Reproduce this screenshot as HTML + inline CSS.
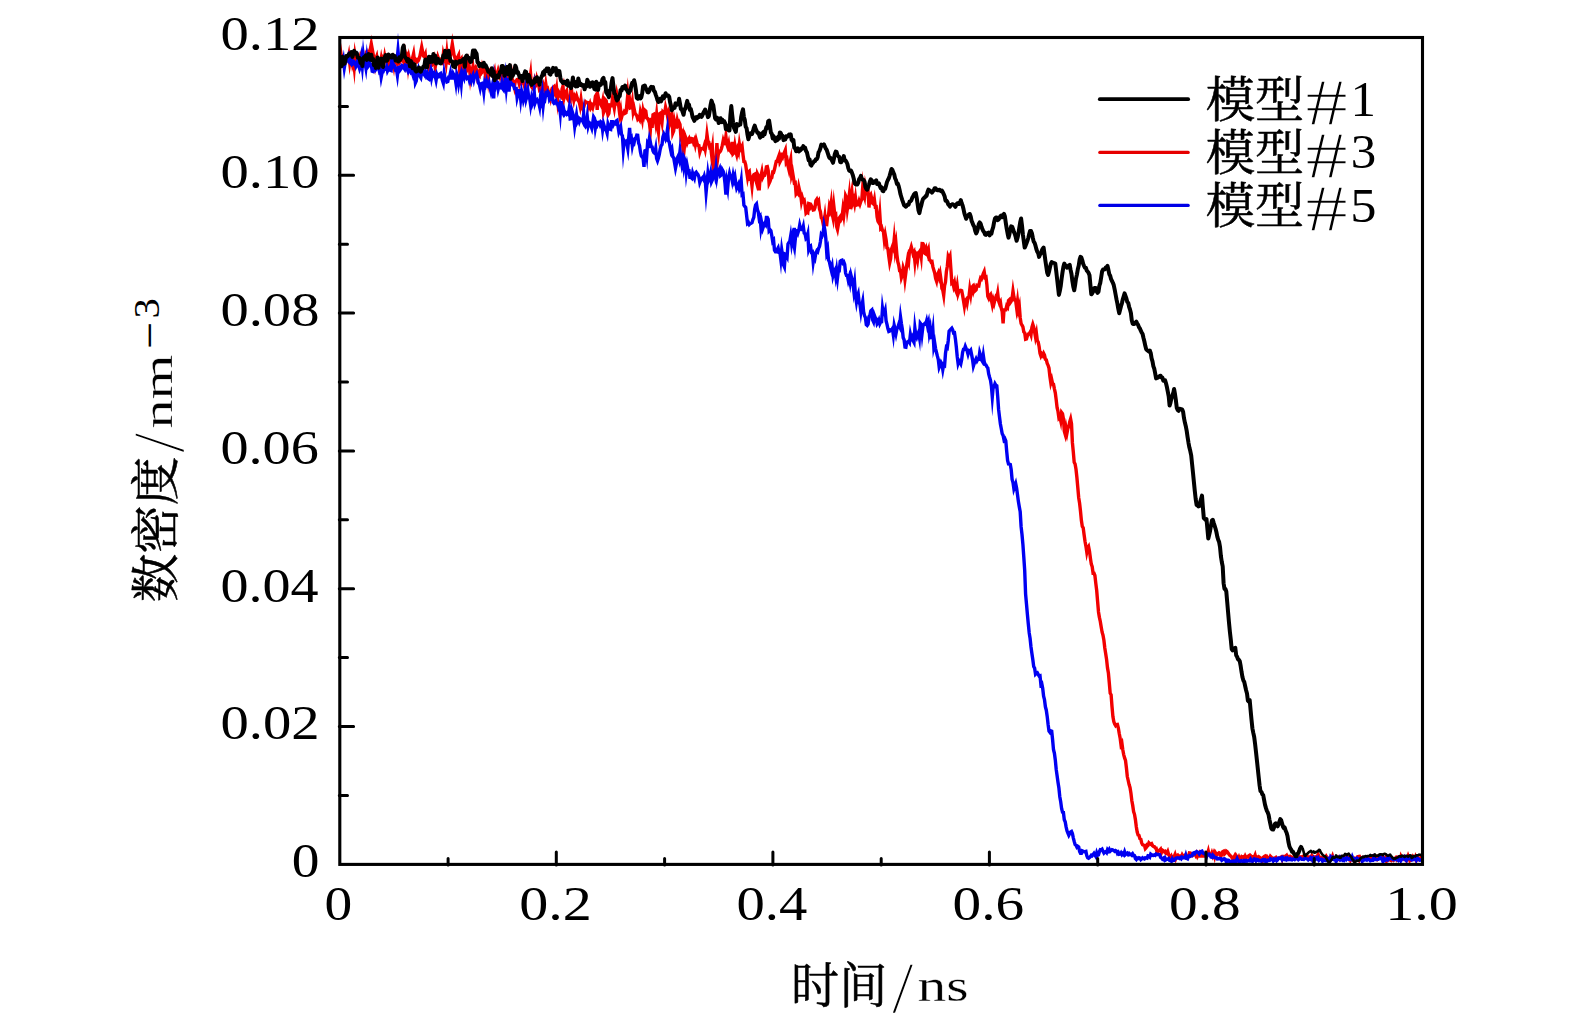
<!DOCTYPE html>
<html lang="zh"><head><meta charset="utf-8"><title>数密度-时间</title>
<style>html,body{margin:0;padding:0;background:#fff}svg{display:block}</style></head>
<body>
<svg width="1575" height="1025" viewBox="0 0 1575 1025">
<rect width="1575" height="1025" fill="#fff"/>
<clipPath id="c"><rect x="339.8" y="31.5" width="1082.7" height="832.9"/></clipPath>
<g fill="none" stroke-linejoin="miter" stroke-miterlimit="12" stroke-linecap="butt" clip-path="url(#c)">
<polyline stroke="#f20000" stroke-width="3.4" points="339.8,61.9 340.7,52.0 341.6,57.8 342.5,56.9 343.4,62.1 344.3,61.8 345.2,60.1 346.1,61.3 347.0,58.7 347.9,59.5 348.8,55.1 349.7,62.8 350.6,56.9 351.5,57.1 352.4,63.2 353.3,59.3 354.2,67.1 355.1,55.1 356.0,60.2 356.9,59.7 357.8,58.9 358.7,62.5 359.6,59.1 360.5,55.6 361.4,57.7 362.3,56.5 363.2,57.6 364.1,62.3 365.0,62.3 365.9,55.4 366.8,57.4 367.7,54.4 368.6,58.2 369.5,53.8 370.4,48.9 371.3,44.0 372.2,48.9 373.1,53.8 374.0,59.9 374.9,64.8 375.8,58.7 376.7,56.3 377.6,62.8 378.5,64.6 379.4,63.2 380.3,63.6 381.2,58.5 382.1,63.6 383.0,59.9 383.9,62.9 384.8,56.3 385.7,60.7 386.6,59.8 387.5,61.0 388.4,63.8 389.3,61.0 390.2,63.8 391.1,60.8 392.0,64.3 392.9,60.5 393.8,65.6 394.7,58.7 395.6,57.6 396.5,59.7 397.4,63.5 398.3,57.9 399.2,57.2 400.1,61.5 401.0,59.9 401.9,59.3 402.8,60.1 403.7,62.0 404.6,64.6 405.5,53.4 406.4,57.1 407.3,55.5 408.2,65.1 409.1,58.0 410.0,62.2 410.9,64.3 411.8,61.3 412.7,57.3 413.6,53.6 414.5,61.0 415.4,59.6 416.3,59.4 417.2,61.7 418.1,60.9 419.0,58.8 419.9,56.1 420.8,51.6 421.7,47.0 422.6,51.6 423.5,56.1 424.4,56.8 425.3,54.5 426.2,64.1 427.1,61.3 428.0,61.9 428.9,66.3 429.8,63.1 430.7,65.2 431.6,65.2 432.5,63.1 433.4,63.1 434.3,59.7 435.2,67.3 436.1,61.5 437.0,61.8 437.9,56.9 438.8,59.5 439.7,60.4 440.6,59.6 441.5,62.8 442.4,63.3 443.3,54.4 444.2,58.2 445.1,58.5 446.0,63.2 446.9,53.7 447.8,62.6 448.7,63.0 449.6,60.2 450.5,55.3 451.4,49.7 452.3,44.0 453.2,49.7 454.1,55.3 455.0,58.0 455.9,63.5 456.8,60.5 457.7,57.2 458.6,55.3 459.5,67.7 460.4,60.4 461.3,59.0 462.2,67.7 463.1,69.2 464.0,66.8 464.9,64.1 465.8,72.3 466.7,70.3 467.6,67.1 468.5,62.5 469.4,67.5 470.3,76.7 471.2,70.1 472.1,70.2 473.0,66.3 473.9,71.7 474.8,69.0 475.7,67.5 476.6,69.9 477.5,77.0 478.4,74.9 479.3,75.8 480.2,69.4 481.1,71.3 482.0,67.1 482.9,71.1 483.8,70.0 484.7,69.5 485.6,76.7 486.5,71.0 487.4,70.6 488.3,78.9 489.2,72.0 490.1,70.5 491.0,69.1 491.9,69.8 492.8,70.6 493.7,75.2 494.6,71.6 495.5,78.4 496.4,78.8 497.3,73.6 498.2,70.3 499.1,73.3 500.0,76.4 500.9,73.0 501.8,75.6 502.7,76.0 503.6,79.1 504.5,77.6 505.4,80.6 506.3,78.1 507.2,81.1 508.1,76.9 509.0,79.1 509.9,81.5 510.8,80.9 511.7,75.1 512.6,81.9 513.5,81.8 514.4,86.4 515.3,81.2 516.2,80.8 517.1,79.4 518.0,79.2 518.9,82.6 519.8,76.1 520.7,77.2 521.6,82.1 522.5,80.9 523.4,82.8 524.3,85.5 525.2,88.7 526.1,85.6 527.0,88.3 527.9,84.5 528.8,78.8 529.7,80.6 530.6,74.2 531.5,86.6 532.4,87.8 533.3,83.9 534.2,80.8 535.1,86.5 536.0,85.1 536.9,79.1 537.8,82.5 538.7,85.1 539.6,90.2 540.5,89.6 541.4,89.6 542.3,87.6 543.2,84.7 544.1,87.9 545.0,91.8 545.9,84.5 546.8,90.4 547.7,89.2 548.6,93.5 549.5,93.4 550.4,97.3 551.3,90.9 552.2,88.2 553.1,87.4 554.0,86.6 554.9,94.3 555.8,95.6 556.7,89.6 557.6,99.3 558.5,91.5 559.4,93.0 560.3,95.9 561.2,96.9 562.1,88.9 563.0,86.1 563.9,98.3 564.8,94.5 565.7,92.4 566.6,90.9 567.5,98.8 568.4,100.3 569.3,98.8 570.2,100.1 571.1,85.8 572.0,94.9 572.9,95.6 573.8,100.3 574.7,96.1 575.6,97.8 576.5,95.5 577.4,98.4 578.3,100.7 579.2,102.0 580.1,106.1 581.0,99.8 581.9,106.9 582.8,109.1 583.7,107.2 584.6,104.1 585.5,101.7 586.4,102.6 587.3,102.4 588.2,102.6 589.1,106.5 590.0,103.8 590.9,107.5 591.8,105.6 592.7,107.7 593.6,103.9 594.5,103.7 595.4,96.2 596.3,94.7 597.2,109.9 598.1,96.6 599.0,101.2 599.9,100.8 600.8,104.3 601.7,106.1 602.6,101.7 603.5,112.7 604.4,110.2 605.3,99.7 606.2,100.7 607.1,111.0 608.0,115.0 608.9,113.5 609.8,105.1 610.7,105.4 611.6,105.6 612.5,98.5 613.4,103.5 614.3,108.2 615.2,101.8 616.1,102.7 617.0,94.5 617.9,98.7 618.8,106.9 619.7,114.0 620.6,109.8 621.5,117.6 622.4,114.5 623.3,114.1 624.2,111.9 625.1,113.2 626.0,112.7 626.9,103.9 627.8,94.4 628.7,103.2 629.6,100.1 630.5,107.7 631.4,107.3 632.3,101.9 633.2,112.0 634.1,108.6 635.0,113.1 635.9,114.6 636.8,115.8 637.7,119.0 638.6,117.8 639.5,119.4 640.4,112.0 641.3,115.5 642.2,119.7 643.1,110.9 644.0,114.8 644.9,110.3 645.8,111.1 646.7,117.9 647.6,118.4 648.5,120.5 649.4,123.0 650.3,130.7 651.2,117.8 652.1,128.0 653.0,114.7 653.9,114.2 654.8,116.5 655.7,122.5 656.6,114.8 657.5,125.1 658.4,131.4 659.3,114.0 660.2,113.4 661.1,117.6 662.0,122.3 662.9,112.2 663.8,113.3 664.7,113.1 665.6,107.2 666.5,110.6 667.4,115.5 668.3,112.7 669.2,122.9 670.1,117.5 671.0,121.4 671.9,116.8 672.8,133.1 673.7,130.9 674.6,122.2 675.5,126.6 676.4,126.8 677.3,120.5 678.2,124.3 679.1,122.4 680.0,124.5 680.9,136.5 681.8,134.5 682.7,145.6 683.6,138.8 684.5,145.8 685.4,136.8 686.3,139.3 687.2,142.8 688.1,140.3 689.0,138.7 689.9,142.1 690.8,141.8 691.7,138.6 692.6,138.9 693.5,142.3 694.4,140.2 695.3,144.6 696.2,140.0 697.1,143.3 698.0,145.4 698.9,145.6 699.8,152.1 700.7,149.2 701.6,148.6 702.5,148.4 703.4,149.0 704.3,145.8 705.2,149.5 706.1,143.5 707.0,134.6 707.9,141.3 708.8,142.1 709.7,146.8 710.6,145.9 711.5,153.9 712.4,147.9 713.3,164.8 714.2,161.2 715.1,164.5 716.0,161.3 716.9,143.1 717.8,157.8 718.7,151.5 719.6,152.2 720.5,151.2 721.4,148.8 722.3,145.4 723.2,140.7 724.1,143.7 725.0,143.5 725.9,136.5 726.8,144.2 727.7,146.9 728.6,143.5 729.5,150.3 730.4,151.0 731.3,152.3 732.2,141.9 733.1,153.7 734.0,152.7 734.9,145.8 735.8,151.5 736.7,154.7 737.6,149.5 738.5,152.2 739.4,144.2 740.3,149.5 741.2,148.0 742.1,146.1 743.0,154.6 743.9,161.5 744.8,161.7 745.7,164.9 746.6,171.3 747.5,177.1 748.4,172.1 749.3,171.3 750.2,178.7 751.1,178.3 752.0,185.9 752.9,176.6 753.8,174.7 754.7,174.2 755.6,179.2 756.5,182.4 757.4,173.7 758.3,175.6 759.2,190.3 760.1,176.1 761.0,175.5 761.9,171.5 762.8,177.4 763.7,175.6 764.6,175.4 765.5,172.2 766.4,166.8 767.3,166.6 768.2,170.4 769.1,183.4 770.0,181.5 770.9,178.5 771.8,177.6 772.7,172.2 773.6,172.3 774.5,169.3 775.4,165.2 776.3,161.2 777.2,161.1 778.1,158.0 779.0,155.5 779.9,162.1 780.8,160.3 781.7,155.7 782.6,157.0 783.5,153.9 784.4,152.3 785.3,150.1 786.2,161.8 787.1,160.1 788.0,166.0 788.9,169.7 789.8,163.4 790.7,159.5 791.6,175.0 792.5,171.8 793.4,177.3 794.3,182.9 795.2,182.6 796.1,193.8 797.0,192.5 797.9,193.6 798.8,187.1 799.7,191.1 800.6,193.9 801.5,201.6 802.4,197.9 803.3,201.1 804.2,200.3 805.1,205.2 806.0,213.0 806.9,212.0 807.8,212.6 808.7,203.5 809.6,203.8 810.5,207.2 811.4,205.7 812.3,207.5 813.2,210.0 814.1,209.8 815.0,207.5 815.9,200.7 816.8,199.3 817.7,202.0 818.6,200.7 819.5,209.1 820.4,211.7 821.3,217.9 822.2,219.0 823.1,223.6 824.0,222.6 824.9,216.2 825.8,224.5 826.7,224.6 827.6,216.2 828.5,215.3 829.4,206.6 830.3,209.5 831.2,203.1 832.1,213.4 833.0,217.7 833.9,206.7 834.8,214.8 835.7,214.2 836.6,226.5 837.5,229.5 838.4,224.3 839.3,218.0 840.2,216.7 841.1,219.4 842.0,217.7 842.9,209.8 843.8,215.4 844.7,207.8 845.6,195.8 846.5,197.8 847.4,208.8 848.3,202.8 849.2,195.5 850.1,209.2 851.0,197.3 851.9,191.8 852.8,202.3 853.7,199.6 854.6,203.9 855.5,197.8 856.4,205.1 857.3,204.6 858.2,204.7 859.1,201.2 860.0,204.0 860.9,201.2 861.8,199.5 862.7,187.2 863.6,194.1 864.5,197.1 865.4,187.1 866.3,191.9 867.2,193.4 868.1,192.3 869.0,207.5 869.9,196.3 870.8,194.8 871.7,198.5 872.6,203.4 873.5,204.1 874.4,199.7 875.3,207.0 876.2,206.8 877.1,217.0 878.0,221.3 878.9,222.7 879.8,214.1 880.7,228.2 881.6,227.2 882.5,230.5 883.4,231.2 884.3,239.6 885.2,234.7 886.1,239.8 887.0,248.0 887.9,248.5 888.8,256.3 889.7,262.7 890.6,258.7 891.5,249.2 892.4,246.6 893.3,248.7 894.2,239.3 895.1,249.8 896.0,244.0 896.9,254.6 897.8,261.7 898.7,265.0 899.6,270.6 900.5,270.6 901.4,277.6 902.3,275.0 903.2,267.9 904.1,270.7 905.0,279.2 905.9,272.3 906.8,264.6 907.7,258.8 908.6,261.9 909.5,250.7 910.4,250.0 911.3,246.9 912.2,250.3 913.1,254.0 914.0,252.4 914.9,261.5 915.8,253.3 916.7,254.6 917.6,259.7 918.5,252.6 919.4,251.9 920.3,250.5 921.2,256.5 922.1,243.6 923.0,243.7 923.9,245.2 924.8,253.4 925.7,254.0 926.6,249.5 927.5,252.9 928.4,250.0 929.3,259.8 930.2,260.2 931.1,262.0 932.0,261.6 932.9,266.9 933.8,269.9 934.7,273.0 935.6,278.3 936.5,281.0 937.4,275.0 938.3,272.9 939.2,276.9 940.1,273.4 941.0,279.6 941.9,288.4 942.8,290.1 943.7,295.2 944.6,285.6 945.5,281.9 946.4,271.5 947.3,266.5 948.2,256.6 949.1,258.7 950.0,256.4 950.9,269.2 951.8,283.0 952.7,282.2 953.6,286.2 954.5,283.0 955.4,289.5 956.3,291.7 957.2,286.1 958.1,293.7 959.0,290.9 959.9,290.5 960.8,290.2 961.7,290.6 962.6,295.4 963.5,300.6 964.4,306.2 965.3,300.6 966.2,299.5 967.1,303.2 968.0,297.8 968.9,297.3 969.8,289.3 970.7,294.6 971.6,287.6 972.5,286.5 973.4,291.0 974.3,288.0 975.2,290.7 976.1,289.9 977.0,285.3 977.9,285.7 978.8,285.9 979.7,281.2 980.6,278.0 981.5,278.9 982.4,276.4 983.3,273.7 984.2,271.6 985.1,277.5 986.0,277.1 986.9,284.9 987.8,296.4 988.7,298.3 989.6,295.8 990.5,294.6 991.4,300.2 992.3,304.7 993.2,300.0 994.1,303.3 995.0,299.7 995.9,296.9 996.8,298.1 997.7,293.2 998.6,300.9 999.5,303.5 1000.4,301.9 1001.3,308.4 1002.2,311.6 1003.1,323.4 1004.0,309.9 1004.9,309.9 1005.8,309.9 1006.7,306.0 1007.6,307.2 1008.5,300.5 1009.4,299.6 1010.3,302.6 1011.2,301.3 1012.1,298.2 1013.0,291.0 1013.9,296.9 1014.8,300.4 1015.7,300.8 1016.6,307.7 1017.5,301.2 1018.4,309.5 1019.3,306.1 1020.2,317.7 1021.1,323.5 1022.0,325.2 1022.9,326.8 1023.8,331.9 1024.7,332.8 1025.6,339.3 1026.5,339.0 1027.4,335.8 1028.3,334.0 1029.2,333.8 1030.1,332.2 1031.0,334.8 1031.9,327.3 1032.8,324.3 1033.7,327.1 1034.6,332.0 1035.5,337.1 1036.4,333.1 1037.3,340.5 1038.2,342.1 1039.1,346.5 1040.0,353.4 1040.9,356.0 1041.8,354.1 1042.7,355.4 1043.6,353.3 1044.5,355.1 1045.4,359.3 1046.3,359.7 1047.2,363.4 1048.1,365.3 1049.0,368.2 1049.9,376.5 1050.8,382.7 1051.7,379.5 1052.6,383.7 1053.5,384.1 1054.4,388.8 1055.3,392.9 1056.2,399.9 1057.1,407.7 1058.0,411.4 1058.9,417.8 1059.8,416.7 1060.7,420.7 1061.6,412.5 1062.5,413.7 1063.4,418.7 1064.3,431.3 1065.2,434.4 1066.1,428.1 1067.0,432.9 1067.9,428.1 1068.8,426.8 1069.7,421.8 1070.6,418.9 1071.5,423.7 1072.4,442.7 1073.3,451.8 1074.2,462.3 1075.1,464.0 1076.0,469.3 1076.9,477.5 1077.8,487.5 1078.7,497.7 1079.6,503.2 1080.5,511.3 1081.4,520.6 1082.3,526.5 1083.2,527.9 1084.1,534.8 1085.0,541.2 1085.9,546.1 1086.8,552.2 1087.7,548.2 1088.6,546.7 1089.5,551.3 1090.4,558.1 1091.3,564.2 1092.2,566.7 1093.1,573.3 1094.0,573.3 1094.9,575.5 1095.8,583.4 1096.7,590.5 1097.6,601.3 1098.5,612.0 1099.4,617.4 1100.3,621.5 1101.2,627.1 1102.1,632.2 1103.0,635.2 1103.9,640.2 1104.8,648.0 1105.7,653.8 1106.6,659.6 1107.5,667.9 1108.4,673.0 1109.3,682.9 1110.2,693.3 1111.1,694.7 1112.0,706.5 1112.9,716.6 1113.8,721.5 1114.7,724.0 1115.6,725.6 1116.5,724.5 1117.4,724.4 1118.3,727.8 1119.2,733.3 1120.1,737.9 1121.0,744.8 1121.9,743.1 1122.8,749.8 1123.7,754.6 1124.6,757.9 1125.5,760.4 1126.4,767.8 1127.3,776.5 1128.2,780.5 1129.1,784.5 1130.0,787.5 1130.9,792.9 1131.8,800.5 1132.7,805.4 1133.6,811.6 1134.5,814.3 1135.4,819.6 1136.3,826.7 1137.2,832.1 1138.1,835.1 1139.0,835.5 1139.9,838.7 1140.8,839.2 1141.7,842.9 1142.6,844.7 1143.5,845.1 1144.4,845.4 1145.3,848.5 1146.2,847.5 1147.1,844.9 1148.0,845.3 1148.9,842.8 1149.8,843.7 1150.7,844.2 1151.6,843.7 1152.5,845.6 1153.4,846.4 1154.3,846.5 1155.2,847.9 1156.1,848.0 1157.0,851.5 1157.9,851.7 1158.8,850.4 1159.7,850.2 1160.6,849.2 1161.5,852.4 1162.4,850.1 1163.3,850.7 1164.2,851.7 1165.1,851.3 1166.0,853.4 1166.9,853.7 1167.8,851.7 1168.7,854.7 1169.6,856.2 1170.5,858.0 1171.4,856.3 1172.3,858.4 1173.2,856.6 1174.1,856.7 1175.0,854.6 1175.9,858.1 1176.8,855.7 1177.7,855.1 1178.6,856.6 1179.5,855.9 1180.4,855.9 1181.3,857.2 1182.2,854.9 1183.1,856.4 1184.0,855.9 1184.9,855.3 1185.8,857.1 1186.7,856.2 1187.6,855.8 1188.5,856.1 1189.4,852.9 1190.3,853.0 1191.2,855.4 1192.1,855.8 1193.0,855.0 1193.9,854.4 1194.8,853.8 1195.7,855.5 1196.6,853.6 1197.5,856.3 1198.4,854.6 1199.3,853.2 1200.2,855.9 1201.1,855.8 1202.0,854.6 1202.9,855.9 1203.8,855.8 1204.7,855.9 1205.6,853.3 1206.5,854.1 1207.4,854.4 1208.3,851.1 1209.2,855.2 1210.1,855.5 1211.0,855.6 1211.9,853.0 1212.8,855.7 1213.7,853.4 1214.6,856.6 1215.5,852.8 1216.4,854.2 1217.3,854.6 1218.2,853.5 1219.1,852.7 1220.0,853.2 1220.9,856.2 1221.8,854.3 1222.7,851.7 1223.6,851.2 1224.5,854.0 1225.4,853.1 1226.3,851.1 1227.2,851.8 1228.1,853.0 1229.0,854.2 1229.9,855.5 1230.8,856.0 1231.7,857.1 1232.6,858.8 1233.5,858.0 1234.4,856.4 1235.3,859.4 1236.2,855.8 1237.1,857.2 1238.0,859.5 1238.9,857.4 1239.8,859.9 1240.7,857.8 1241.6,856.5 1242.5,857.1 1243.4,856.7 1244.3,858.3 1245.2,856.1 1246.1,857.9 1247.0,857.0 1247.9,856.4 1248.8,855.8 1249.7,857.9 1250.6,855.7 1251.5,856.5 1252.4,856.7 1253.3,859.0 1254.2,857.3 1255.1,855.1 1256.0,858.7 1256.9,857.0 1257.8,857.6 1258.7,856.7 1259.6,857.3 1260.5,858.2 1261.4,858.9 1262.3,860.5 1263.2,857.4 1264.1,856.7 1265.0,856.1 1265.9,857.7 1266.8,856.6 1267.7,858.0 1268.6,858.3 1269.5,858.2 1270.4,856.2 1271.3,857.1 1272.2,858.1 1273.1,858.5 1274.0,859.1 1274.9,858.0 1275.8,857.4 1276.7,859.3 1277.6,858.5 1278.5,858.3 1279.4,857.8 1280.3,857.5 1281.2,857.0 1282.1,859.2 1283.0,856.4 1283.9,856.4 1284.8,857.7 1285.7,856.1 1286.6,855.3 1287.5,857.4 1288.4,857.6 1289.3,856.4 1290.2,856.3 1291.1,857.4 1292.0,857.3 1292.9,858.1 1293.8,858.1 1294.7,858.4 1295.6,857.0 1296.5,856.9 1297.4,858.7 1298.3,858.8 1299.2,858.2 1300.1,856.8 1301.0,857.2 1301.9,856.7 1302.8,856.3 1303.7,856.7 1304.6,856.4 1305.5,855.5 1306.4,855.0 1307.3,857.1 1308.2,856.7 1309.1,856.9 1310.0,856.8 1310.9,858.3 1311.8,855.8 1312.7,857.4 1313.6,856.7 1314.5,857.4 1315.4,856.9 1316.3,856.5 1317.2,856.7 1318.1,854.4 1319.0,856.5 1319.9,858.9 1320.8,858.2 1321.7,857.7 1322.6,859.2 1323.5,858.2 1324.4,859.2 1325.3,857.6 1326.2,856.2 1327.1,857.6 1328.0,858.4 1328.9,858.6 1329.8,859.1 1330.7,859.1 1331.6,858.3 1332.5,856.1 1333.4,859.0 1334.3,859.0 1335.2,859.1 1336.1,857.9 1337.0,858.7 1337.9,858.9 1338.8,859.5 1339.7,857.2 1340.6,857.8 1341.5,857.0 1342.4,858.4 1343.3,857.7 1344.2,858.9 1345.1,858.4 1346.0,856.6 1346.9,858.2 1347.8,857.6 1348.7,858.8 1349.6,857.5 1350.5,860.1 1351.4,858.5 1352.3,858.5 1353.2,860.1 1354.1,859.7 1355.0,858.5 1355.9,859.2 1356.8,859.7 1357.7,856.6 1358.6,856.4 1359.5,859.5 1360.4,857.7 1361.3,859.1 1362.2,859.8 1363.1,858.1 1364.0,859.3 1364.9,859.2 1365.8,858.1 1366.7,857.7 1367.6,856.9 1368.5,856.8 1369.4,857.6 1370.3,858.9 1371.2,857.6 1372.1,858.4 1373.0,857.0 1373.9,859.1 1374.8,858.2 1375.7,856.3 1376.6,856.3 1377.5,858.8 1378.4,857.6 1379.3,857.1 1380.2,856.5 1381.1,857.1 1382.0,858.6 1382.9,857.5 1383.8,859.2 1384.7,859.9 1385.6,857.8 1386.5,860.9 1387.4,858.9 1388.3,859.5 1389.2,857.8 1390.1,860.1 1391.0,860.5 1391.9,858.1 1392.8,858.5 1393.7,859.9 1394.6,858.9 1395.5,858.0 1396.4,859.3 1397.3,857.1 1398.2,857.3 1399.1,859.4 1400.0,859.9 1400.9,856.5 1401.8,858.7 1402.7,857.7 1403.6,858.7 1404.5,857.2 1405.4,859.0 1406.3,860.4 1407.2,858.8 1408.1,856.1 1409.0,858.6 1409.9,860.9 1410.8,860.4 1411.7,858.1 1412.6,856.7 1413.5,858.4 1414.4,859.1 1415.3,857.0 1416.2,859.9 1417.1,858.1 1418.0,859.2 1418.9,858.1 1419.8,858.7 1420.7,858.0 1421.6,856.8 1422.5,859.0"/>
<polyline stroke="#0000f2" stroke-width="3.4" points="339.8,63.1 340.7,63.4 341.6,64.8 342.5,64.4 343.4,60.1 344.3,67.8 345.2,62.4 346.1,60.5 347.0,58.1 347.9,56.1 348.8,61.8 349.7,62.7 350.6,58.4 351.5,60.2 352.4,64.3 353.3,63.5 354.2,61.8 355.1,62.6 356.0,66.4 356.9,64.7 357.8,60.0 358.7,65.5 359.6,68.7 360.5,66.1 361.4,59.0 362.3,66.4 363.2,55.8 364.1,64.1 365.0,62.4 365.9,67.7 366.8,59.0 367.7,67.0 368.6,65.8 369.5,61.8 370.4,65.3 371.3,65.1 372.2,71.2 373.1,71.5 374.0,67.3 374.9,66.6 375.8,69.6 376.7,68.4 377.6,66.3 378.5,67.1 379.4,71.2 380.3,69.8 381.2,77.2 382.1,72.6 383.0,72.1 383.9,69.0 384.8,68.9 385.7,69.2 386.6,66.6 387.5,71.1 388.4,69.3 389.3,67.9 390.2,70.1 391.1,70.5 392.0,56.0 392.9,66.3 393.8,64.9 394.7,66.1 395.6,69.9 396.5,69.5 397.4,75.3 398.3,67.6 399.2,67.2 400.1,70.0 401.0,68.7 401.9,65.6 402.8,66.1 403.7,67.5 404.6,68.9 405.5,65.1 406.4,65.3 407.3,69.7 408.2,71.7 409.1,69.9 410.0,69.7 410.9,72.1 411.8,70.9 412.7,73.9 413.6,68.9 414.5,72.6 415.4,82.9 416.3,80.9 417.2,72.2 418.1,69.4 419.0,74.9 419.9,76.2 420.8,77.7 421.7,72.1 422.6,70.7 423.5,73.6 424.4,74.9 425.3,72.0 426.2,75.4 427.1,73.5 428.0,78.5 428.9,79.1 429.8,74.7 430.7,70.8 431.6,77.3 432.5,72.8 433.4,75.0 434.3,73.5 435.2,76.1 436.1,80.2 437.0,74.8 437.9,77.1 438.8,76.9 439.7,74.0 440.6,73.4 441.5,76.6 442.4,80.3 443.3,83.1 444.2,73.5 445.1,78.6 446.0,78.7 446.9,82.0 447.8,81.6 448.7,77.1 449.6,77.1 450.5,72.8 451.4,77.9 452.3,78.0 453.2,73.6 454.1,75.3 455.0,76.8 455.9,83.0 456.8,74.2 457.7,77.2 458.6,83.6 459.5,78.1 460.4,75.2 461.3,83.1 462.2,72.7 463.1,74.8 464.0,77.4 464.9,71.2 465.8,76.3 466.7,78.1 467.6,76.9 468.5,76.8 469.4,80.5 470.3,78.0 471.2,81.0 472.1,77.2 473.0,75.0 473.9,79.5 474.8,75.6 475.7,75.7 476.6,73.9 477.5,77.7 478.4,83.0 479.3,84.2 480.2,88.2 481.1,83.7 482.0,83.4 482.9,85.0 483.8,91.7 484.7,82.7 485.6,84.9 486.5,81.3 487.4,86.0 488.3,86.7 489.2,83.3 490.1,88.2 491.0,91.9 491.9,87.7 492.8,83.5 493.7,98.3 494.6,79.8 495.5,85.4 496.4,81.4 497.3,82.9 498.2,89.2 499.1,85.7 500.0,88.0 500.9,87.7 501.8,83.2 502.7,88.5 503.6,89.8 504.5,85.4 505.4,77.9 506.3,87.9 507.2,79.7 508.1,79.6 509.0,91.6 509.9,80.7 510.8,83.7 511.7,83.6 512.6,85.0 513.5,84.9 514.4,88.4 515.3,88.3 516.2,88.4 517.1,97.6 518.0,93.7 518.9,90.7 519.8,90.8 520.7,99.2 521.6,91.4 522.5,95.4 523.4,100.3 524.3,97.0 525.2,90.9 526.1,99.0 527.0,95.5 527.9,90.8 528.8,98.0 529.7,98.5 530.6,105.0 531.5,98.9 532.4,103.7 533.3,101.3 534.2,91.8 535.1,102.9 536.0,100.4 536.9,99.6 537.8,101.8 538.7,102.4 539.6,106.6 540.5,97.1 541.4,100.8 542.3,93.9 543.2,105.0 544.1,97.0 545.0,98.7 545.9,93.4 546.8,94.2 547.7,91.7 548.6,93.1 549.5,99.4 550.4,98.0 551.3,98.9 552.2,94.5 553.1,102.0 554.0,103.2 554.9,102.4 555.8,101.0 556.7,103.6 557.6,103.5 558.5,106.8 559.4,104.6 560.3,113.0 561.2,101.1 562.1,111.4 563.0,113.2 563.9,109.9 564.8,114.0 565.7,112.8 566.6,114.0 567.5,112.7 568.4,114.0 569.3,107.9 570.2,118.8 571.1,118.6 572.0,110.9 572.9,113.9 573.8,117.8 574.7,126.3 575.6,120.1 576.5,114.8 577.4,121.4 578.3,119.4 579.2,121.8 580.1,119.1 581.0,120.0 581.9,119.4 582.8,121.3 583.7,114.0 584.6,125.1 585.5,126.4 586.4,124.6 587.3,117.1 588.2,125.8 589.1,122.4 590.0,123.2 590.9,125.6 591.8,128.2 592.7,123.0 593.6,116.8 594.5,118.2 595.4,127.9 596.3,123.0 597.2,124.9 598.1,122.4 599.0,122.2 599.9,124.4 600.8,121.9 601.7,122.7 602.6,129.9 603.5,123.7 604.4,126.7 605.3,129.7 606.2,130.0 607.1,133.2 608.0,124.0 608.9,126.6 609.8,129.2 610.7,129.5 611.6,121.6 612.5,121.6 613.4,124.6 614.3,122.8 615.2,123.5 616.1,121.0 617.0,120.4 617.9,125.4 618.8,131.3 619.7,128.4 620.6,126.6 621.5,134.3 622.4,135.8 623.3,149.7 624.2,141.1 625.1,143.0 626.0,141.8 626.9,143.8 627.8,148.7 628.7,137.9 629.6,127.9 630.5,140.0 631.4,138.4 632.3,145.8 633.2,141.3 634.1,142.7 635.0,138.4 635.9,138.0 636.8,135.1 637.7,135.2 638.6,143.0 639.5,145.4 640.4,151.7 641.3,155.9 642.2,157.2 643.1,158.0 644.0,166.8 644.9,150.8 645.8,150.3 646.7,155.7 647.6,142.9 648.5,144.2 649.4,138.5 650.3,142.0 651.2,146.6 652.1,146.9 653.0,151.0 653.9,152.7 654.8,153.4 655.7,148.7 656.6,158.4 657.5,160.8 658.4,158.0 659.3,154.3 660.2,149.2 661.1,145.8 662.0,144.6 662.9,137.0 663.8,134.2 664.7,136.3 665.6,138.9 666.5,136.4 667.4,129.8 668.3,141.0 669.2,141.8 670.1,147.1 671.0,151.5 671.9,149.3 672.8,156.8 673.7,157.7 674.6,162.9 675.5,168.1 676.4,163.7 677.3,157.9 678.2,156.0 679.1,159.2 680.0,151.1 680.9,158.6 681.8,164.1 682.7,159.5 683.6,166.0 684.5,158.8 685.4,160.9 686.3,172.3 687.2,165.8 688.1,170.3 689.0,170.5 689.9,177.2 690.8,177.2 691.7,178.1 692.6,173.0 693.5,175.9 694.4,178.1 695.3,173.1 696.2,172.2 697.1,173.6 698.0,174.6 698.9,177.0 699.8,182.5 700.7,180.2 701.6,178.7 702.5,177.7 703.4,179.3 704.3,176.3 705.2,180.0 706.1,192.4 707.0,183.0 707.9,173.6 708.8,179.9 709.7,177.7 710.6,173.3 711.5,181.8 712.4,179.8 713.3,171.8 714.2,170.6 715.1,175.1 716.0,167.9 716.9,176.8 717.8,171.3 718.7,170.6 719.6,168.7 720.5,175.6 721.4,174.8 722.3,169.7 723.2,171.3 724.1,175.5 725.0,183.4 725.9,194.7 726.8,182.6 727.7,187.9 728.6,177.7 729.5,173.4 730.4,177.1 731.3,176.4 732.2,180.7 733.1,175.3 734.0,180.0 734.9,176.7 735.8,183.3 736.7,188.3 737.6,186.4 738.5,184.3 739.4,188.9 740.3,186.7 741.2,180.9 742.1,194.8 743.0,194.2 743.9,205.1 744.8,206.4 745.7,207.5 746.6,215.4 747.5,223.2 748.4,222.4 749.3,224.5 750.2,223.6 751.1,223.2 752.0,222.7 752.9,219.5 753.8,217.4 754.7,209.2 755.6,205.0 756.5,203.9 757.4,209.6 758.3,212.2 759.2,218.8 760.1,217.2 761.0,228.6 761.9,223.8 762.8,228.4 763.7,225.8 764.6,223.7 765.5,224.8 766.4,217.5 767.3,217.5 768.2,219.2 769.1,230.7 770.0,229.6 770.9,230.7 771.8,235.7 772.7,241.5 773.6,240.3 774.5,250.3 775.4,251.8 776.3,251.7 777.2,249.5 778.1,247.9 779.0,252.2 779.9,252.2 780.8,259.4 781.7,249.8 782.6,255.8 783.5,264.9 784.4,267.0 785.3,254.2 786.2,254.7 787.1,256.6 788.0,244.0 788.9,242.4 789.8,241.4 790.7,236.0 791.6,243.4 792.5,237.7 793.4,242.3 794.3,227.9 795.2,240.2 796.1,230.9 797.0,230.7 797.9,233.1 798.8,230.2 799.7,225.2 800.6,228.9 801.5,229.6 802.4,229.6 803.3,226.4 804.2,233.1 805.1,233.9 806.0,238.6 806.9,237.7 807.8,234.2 808.7,249.2 809.6,246.6 810.5,246.0 811.4,252.1 812.3,251.8 813.2,261.9 814.1,255.7 815.0,258.0 815.9,252.9 816.8,250.9 817.7,251.8 818.6,248.4 819.5,246.4 820.4,241.8 821.3,234.5 822.2,235.6 823.1,233.1 824.0,225.6 824.9,230.2 825.8,238.4 826.7,252.1 827.6,249.2 828.5,260.1 829.4,261.8 830.3,266.2 831.2,269.9 832.1,266.3 833.0,275.3 833.9,271.8 834.8,270.2 835.7,276.3 836.6,270.3 837.5,277.8 838.4,270.2 839.3,270.4 840.2,261.3 841.1,260.5 842.0,260.2 842.9,262.9 843.8,262.0 844.7,264.5 845.6,273.0 846.5,275.5 847.4,275.7 848.3,280.3 849.2,277.1 850.1,282.2 851.0,275.3 851.9,278.9 852.8,281.7 853.7,289.8 854.6,283.1 855.5,296.2 856.4,301.9 857.3,296.3 858.2,293.7 859.1,302.2 860.0,304.6 860.9,311.6 861.8,305.5 862.7,301.3 863.6,311.7 864.5,315.7 865.4,317.6 866.3,324.7 867.2,325.5 868.1,324.2 869.0,316.7 869.9,315.3 870.8,310.9 871.7,310.1 872.6,319.8 873.5,321.8 874.4,315.4 875.3,317.8 876.2,318.7 877.1,323.8 878.0,322.4 878.9,320.2 879.8,323.8 880.7,321.9 881.6,321.8 882.5,308.5 883.4,314.5 884.3,313.8 885.2,310.6 886.1,321.0 887.0,324.4 887.9,328.5 888.8,331.4 889.7,331.0 890.6,329.9 891.5,330.1 892.4,328.6 893.3,334.8 894.2,325.3 895.1,329.1 896.0,333.5 896.9,328.9 897.8,327.5 898.7,324.5 899.6,326.5 900.5,317.1 901.4,323.6 902.3,329.1 903.2,337.7 904.1,339.8 905.0,347.1 905.9,347.3 906.8,342.2 907.7,342.0 908.6,341.2 909.5,342.6 910.4,334.4 911.3,338.4 912.2,336.8 913.1,340.7 914.0,342.4 914.9,328.2 915.8,335.2 916.7,337.3 917.6,334.5 918.5,332.3 919.4,337.4 920.3,323.3 921.2,324.5 922.1,333.4 923.0,325.9 923.9,324.3 924.8,323.5 925.7,324.2 926.6,320.9 927.5,325.7 928.4,322.5 929.3,332.8 930.2,328.5 931.1,337.5 932.0,337.4 932.9,330.5 933.8,346.7 934.7,342.9 935.6,348.8 936.5,352.5 937.4,356.2 938.3,359.5 939.2,367.2 940.1,364.9 941.0,362.5 941.9,364.2 942.8,369.6 943.7,364.5 944.6,365.2 945.5,353.3 946.4,347.1 947.3,347.8 948.2,340.9 949.1,331.1 950.0,330.1 950.9,329.1 951.8,328.2 952.7,330.0 953.6,332.9 954.5,332.7 955.4,338.9 956.3,346.8 957.2,356.2 958.1,363.4 959.0,360.7 959.9,362.1 960.8,363.8 961.7,359.4 962.6,352.3 963.5,349.3 964.4,349.2 965.3,346.3 966.2,348.6 967.1,350.7 968.0,354.0 968.9,350.7 969.8,351.3 970.7,350.2 971.6,354.7 972.5,359.3 973.4,366.0 974.3,363.2 975.2,360.8 976.1,358.7 977.0,360.8 977.9,359.2 978.8,359.2 979.7,352.5 980.6,355.4 981.5,359.9 982.4,361.4 983.3,355.3 984.2,361.6 985.1,364.6 986.0,365.0 986.9,366.8 987.8,367.9 988.7,373.9 989.6,377.3 990.5,380.3 991.4,386.3 992.3,396.9 993.2,386.7 994.1,386.6 995.0,383.7 995.9,385.3 996.8,385.8 997.7,396.7 998.6,409.4 999.5,416.9 1000.4,424.0 1001.3,428.7 1002.2,433.7 1003.1,435.4 1004.0,439.8 1004.9,438.7 1005.8,440.9 1006.7,451.3 1007.6,460.4 1008.5,464.0 1009.4,464.1 1010.3,464.5 1011.2,469.8 1012.1,479.5 1013.0,482.5 1013.9,488.8 1014.8,486.2 1015.7,483.6 1016.6,488.1 1017.5,494.7 1018.4,501.6 1019.3,506.9 1020.2,511.8 1021.1,526.7 1022.0,534.5 1022.9,544.3 1023.8,557.1 1024.7,570.4 1025.6,594.1 1026.5,604.1 1027.4,614.4 1028.3,623.9 1029.2,632.9 1030.1,638.5 1031.0,647.0 1031.9,653.6 1032.8,659.6 1033.7,666.5 1034.6,668.1 1035.5,674.1 1036.4,673.2 1037.3,672.8 1038.2,674.4 1039.1,676.0 1040.0,675.7 1040.9,684.6 1041.8,683.7 1042.7,688.3 1043.6,696.1 1044.5,699.7 1045.4,706.8 1046.3,710.2 1047.2,716.4 1048.1,724.4 1049.0,731.0 1049.9,732.2 1050.8,730.8 1051.7,731.2 1052.6,739.7 1053.5,749.8 1054.4,753.2 1055.3,759.9 1056.2,769.4 1057.1,775.8 1058.0,782.2 1058.9,788.0 1059.8,796.7 1060.7,801.8 1061.6,808.5 1062.5,812.1 1063.4,812.3 1064.3,819.7 1065.2,821.8 1066.1,826.9 1067.0,830.8 1067.9,833.1 1068.8,835.2 1069.7,833.4 1070.6,831.9 1071.5,831.4 1072.4,833.5 1073.3,837.8 1074.2,841.4 1075.1,844.5 1076.0,845.3 1076.9,847.2 1077.8,846.3 1078.7,846.9 1079.6,851.5 1080.5,853.4 1081.4,853.4 1082.3,850.9 1083.2,851.3 1084.1,851.8 1085.0,851.6 1085.9,851.4 1086.8,855.8 1087.7,857.8 1088.6,858.3 1089.5,857.6 1090.4,856.6 1091.3,855.3 1092.2,855.8 1093.1,854.6 1094.0,853.4 1094.9,854.9 1095.8,856.4 1096.7,852.9 1097.6,855.3 1098.5,854.8 1099.4,851.7 1100.3,849.7 1101.2,849.9 1102.1,849.2 1103.0,851.3 1103.9,853.0 1104.8,851.9 1105.7,851.6 1106.6,852.6 1107.5,849.7 1108.4,850.9 1109.3,849.4 1110.2,851.2 1111.1,850.3 1112.0,849.6 1112.9,850.0 1113.8,850.7 1114.7,851.4 1115.6,850.6 1116.5,851.2 1117.4,853.4 1118.3,852.4 1119.2,854.3 1120.1,854.1 1121.0,852.8 1121.9,854.6 1122.8,853.4 1123.7,854.5 1124.6,851.8 1125.5,854.5 1126.4,853.7 1127.3,853.1 1128.2,854.5 1129.1,853.5 1130.0,854.6 1130.9,854.3 1131.8,855.2 1132.7,853.9 1133.6,855.4 1134.5,855.6 1135.4,858.6 1136.3,859.5 1137.2,858.0 1138.1,858.5 1139.0,857.8 1139.9,858.2 1140.8,859.7 1141.7,858.9 1142.6,857.8 1143.5,858.5 1144.4,858.9 1145.3,857.7 1146.2,857.8 1147.1,858.1 1148.0,855.8 1148.9,856.0 1149.8,857.0 1150.7,854.1 1151.6,854.8 1152.5,855.3 1153.4,855.5 1154.3,854.9 1155.2,855.3 1156.1,853.9 1157.0,854.4 1157.9,854.5 1158.8,854.4 1159.7,854.7 1160.6,857.3 1161.5,857.9 1162.4,859.1 1163.3,858.3 1164.2,859.7 1165.1,858.0 1166.0,859.7 1166.9,859.1 1167.8,859.2 1168.7,858.6 1169.6,860.4 1170.5,860.8 1171.4,861.3 1172.3,858.9 1173.2,860.5 1174.1,860.4 1175.0,859.3 1175.9,858.1 1176.8,858.0 1177.7,857.8 1178.6,858.0 1179.5,858.5 1180.4,857.6 1181.3,858.6 1182.2,857.2 1183.1,857.8 1184.0,857.7 1184.9,857.9 1185.8,855.1 1186.7,858.3 1187.6,858.8 1188.5,856.6 1189.4,855.7 1190.3,856.3 1191.2,855.8 1192.1,855.7 1193.0,853.2 1193.9,852.8 1194.8,853.6 1195.7,852.2 1196.6,851.6 1197.5,852.2 1198.4,852.5 1199.3,853.9 1200.2,852.5 1201.1,851.4 1202.0,851.1 1202.9,852.9 1203.8,853.6 1204.7,853.7 1205.6,853.3 1206.5,857.0 1207.4,854.5 1208.3,854.2 1209.2,854.1 1210.1,855.0 1211.0,857.1 1211.9,857.3 1212.8,855.1 1213.7,856.0 1214.6,857.4 1215.5,857.8 1216.4,857.8 1217.3,858.9 1218.2,858.8 1219.1,858.4 1220.0,858.7 1220.9,858.7 1221.8,860.3 1222.7,859.7 1223.6,858.9 1224.5,858.8 1225.4,859.4 1226.3,861.9 1227.2,861.3 1228.1,860.2 1229.0,860.5 1229.9,862.3 1230.8,861.7 1231.7,861.7 1232.6,861.1 1233.5,860.9 1234.4,862.4 1235.3,862.4 1236.2,860.8 1237.1,858.8 1238.0,860.9 1238.9,861.6 1239.8,862.4 1240.7,860.9 1241.6,860.5 1242.5,860.8 1243.4,862.2 1244.3,860.6 1245.2,861.2 1246.1,860.4 1247.0,861.2 1247.9,860.7 1248.8,860.8 1249.7,860.9 1250.6,859.2 1251.5,860.8 1252.4,861.4 1253.3,860.2 1254.2,858.9 1255.1,859.4 1256.0,860.8 1256.9,859.5 1257.8,859.8 1258.7,860.7 1259.6,860.5 1260.5,860.7 1261.4,861.2 1262.3,859.9 1263.2,859.6 1264.1,860.7 1265.0,860.0 1265.9,861.8 1266.8,861.4 1267.7,860.3 1268.6,860.6 1269.5,860.5 1270.4,858.7 1271.3,859.0 1272.2,859.4 1273.1,860.8 1274.0,859.1 1274.9,859.9 1275.8,859.2 1276.7,860.7 1277.6,859.9 1278.5,858.1 1279.4,858.2 1280.3,858.4 1281.2,857.8 1282.1,859.6 1283.0,857.9 1283.9,859.2 1284.8,859.6 1285.7,858.3 1286.6,859.5 1287.5,858.3 1288.4,859.6 1289.3,859.4 1290.2,858.6 1291.1,859.6 1292.0,859.8 1292.9,859.0 1293.8,859.0 1294.7,859.6 1295.6,858.6 1296.5,858.5 1297.4,858.8 1298.3,859.7 1299.2,858.9 1300.1,858.0 1301.0,858.7 1301.9,859.3 1302.8,859.4 1303.7,859.5 1304.6,858.3 1305.5,858.5 1306.4,858.6 1307.3,859.1 1308.2,859.9 1309.1,859.1 1310.0,859.3 1310.9,857.5 1311.8,857.9 1312.7,860.2 1313.6,858.4 1314.5,859.9 1315.4,858.8 1316.3,857.8 1317.2,858.9 1318.1,857.9 1319.0,860.1 1319.9,859.2 1320.8,859.1 1321.7,859.1 1322.6,861.2 1323.5,860.2 1324.4,859.9 1325.3,860.5 1326.2,860.5 1327.1,858.6 1328.0,858.4 1328.9,859.2 1329.8,861.0 1330.7,856.9 1331.6,857.9 1332.5,857.3 1333.4,859.5 1334.3,859.7 1335.2,859.1 1336.1,861.5 1337.0,859.9 1337.9,859.3 1338.8,859.2 1339.7,857.7 1340.6,859.9 1341.5,859.5 1342.4,860.1 1343.3,858.5 1344.2,859.9 1345.1,858.6 1346.0,859.5 1346.9,857.9 1347.8,859.1 1348.7,859.3 1349.6,858.4 1350.5,859.6 1351.4,859.8 1352.3,857.0 1353.2,859.2 1354.1,859.0 1355.0,859.9 1355.9,858.6 1356.8,858.2 1357.7,859.5 1358.6,859.9 1359.5,859.0 1360.4,858.7 1361.3,859.6 1362.2,861.4 1363.1,860.7 1364.0,858.6 1364.9,859.7 1365.8,859.7 1366.7,860.1 1367.6,858.7 1368.5,859.0 1369.4,859.8 1370.3,860.8 1371.2,860.4 1372.1,860.0 1373.0,860.1 1373.9,857.5 1374.8,859.1 1375.7,859.5 1376.6,859.4 1377.5,859.6 1378.4,859.3 1379.3,858.4 1380.2,856.8 1381.1,858.8 1382.0,859.0 1382.9,861.4 1383.8,858.9 1384.7,860.6 1385.6,860.2 1386.5,859.0 1387.4,859.7 1388.3,857.2 1389.2,858.6 1390.1,857.8 1391.0,858.5 1391.9,858.4 1392.8,859.4 1393.7,859.3 1394.6,859.7 1395.5,859.4 1396.4,858.8 1397.3,859.8 1398.2,860.4 1399.1,858.4 1400.0,858.8 1400.9,860.6 1401.8,859.3 1402.7,858.7 1403.6,858.8 1404.5,857.5 1405.4,860.0 1406.3,860.6 1407.2,858.0 1408.1,858.6 1409.0,857.8 1409.9,858.7 1410.8,859.1 1411.7,859.9 1412.6,859.8 1413.5,858.8 1414.4,858.4 1415.3,859.0 1416.2,860.3 1417.1,858.1 1418.0,858.7 1418.9,859.3 1419.8,860.3 1420.7,860.2 1421.6,859.7 1422.5,858.7"/>
<path d="M395.4 60L398 32.6L400.6 60Z" fill="#0000f2" stroke="none"/>
<polyline stroke-linejoin="round" stroke="#000" stroke-width="2.6" points="1301.0,846.6 1301.9,848.0 1302.8,848.8 1303.7,852.1 1304.6,855.6 1305.5,855.9 1306.4,854.4 1307.3,853.8 1308.2,852.8 1309.1,851.9 1310.0,851.6 1310.9,850.9 1311.8,852.3 1312.7,852.2 1313.6,851.3 1314.5,852.7 1315.4,852.4 1316.3,851.8 1317.2,851.5 1318.1,851.0 1319.0,849.8 1319.9,850.2 1320.8,852.4 1321.7,853.5 1322.6,854.9 1323.5,855.5 1324.4,856.4 1325.3,856.4 1326.2,857.9 1327.1,859.8 1328.0,861.8 1328.9,862.0 1329.8,861.8 1330.7,860.8 1331.6,859.6 1332.5,857.4 1333.4,857.3 1334.3,857.7 1335.2,857.3 1336.1,855.4 1337.0,856.6 1337.9,857.2 1338.8,856.6 1339.7,857.8 1340.6,857.8 1341.5,856.0 1342.4,855.7 1343.3,856.0 1344.2,855.4 1345.1,853.9 1346.0,854.3 1346.9,855.2 1347.8,854.2 1348.7,853.7 1349.6,855.2 1350.5,856.2 1351.4,857.0 1352.3,859.6 1353.2,859.8 1354.1,862.1 1355.0,862.1 1355.9,861.5 1356.8,860.5 1357.7,860.7 1358.6,860.7 1359.5,860.1 1360.4,858.6 1361.3,857.9 1362.2,857.2 1363.1,856.8 1364.0,857.2 1364.9,856.3 1365.8,856.1 1366.7,856.5 1367.6,856.0 1368.5,856.0 1369.4,855.8 1370.3,854.9 1371.2,855.8 1372.1,855.5 1373.0,855.4 1373.9,855.7 1374.8,854.4 1375.7,856.2 1376.6,855.7 1377.5,855.5 1378.4,855.9 1379.3,854.4 1380.2,854.2 1381.1,854.6 1382.0,854.2 1382.9,855.1 1383.8,854.2 1384.7,853.7 1385.6,853.9 1386.5,854.8 1387.4,855.7 1388.3,855.6 1389.2,855.1 1390.1,854.5 1391.0,855.9 1391.9,856.9 1392.8,858.1 1393.7,858.9 1394.6,858.2 1395.5,858.7 1396.4,857.8 1397.3,857.5 1398.2,857.1 1399.1,856.3 1400.0,856.2 1400.9,856.7 1401.8,855.6 1402.7,855.8 1403.6,856.2 1404.5,856.9 1405.4,856.6 1406.3,855.8 1407.2,855.7 1408.1,856.8 1409.0,856.0 1409.9,855.2 1410.8,855.5 1411.7,858.0 1412.6,857.4 1413.5,856.1 1414.4,856.3 1415.3,856.5 1416.2,855.3 1417.1,855.2 1418.0,855.4 1418.9,854.6 1419.8,854.7 1420.7,854.7 1421.6,855.4 1422.5,855.6"/>
<polyline stroke-linejoin="round" stroke="#000" stroke-width="4.0" points="339.8,61.6 340.7,65.0 341.6,66.2 342.5,56.8 343.4,59.6 344.3,63.7 345.2,61.3 346.1,56.1 347.0,56.7 347.9,55.9 348.8,54.3 349.7,53.4 350.6,54.4 351.5,52.0 352.4,56.9 353.3,53.8 354.2,50.8 355.1,53.5 356.0,52.5 356.9,53.7 357.8,57.5 358.7,58.0 359.6,58.1 360.5,63.0 361.4,60.3 362.3,66.0 363.2,58.5 364.1,57.0 365.0,57.5 365.9,55.3 366.8,59.9 367.7,56.4 368.6,54.1 369.5,55.5 370.4,59.8 371.3,54.7 372.2,60.3 373.1,59.0 374.0,65.2 374.9,61.8 375.8,68.0 376.7,62.9 377.6,57.4 378.5,67.7 379.4,62.2 380.3,59.6 381.2,58.6 382.1,64.2 383.0,67.0 383.9,59.9 384.8,57.1 385.7,55.1 386.6,60.8 387.5,60.2 388.4,54.4 389.3,57.6 390.2,56.3 391.1,55.7 392.0,57.5 392.9,54.9 393.8,55.8 394.7,55.9 395.6,60.6 396.5,58.9 397.4,60.8 398.3,61.5 399.2,57.3 400.1,60.1 401.0,58.5 401.9,55.4 402.8,47.7 403.7,45.5 404.6,55.7 405.5,58.0 406.4,58.5 407.3,61.4 408.2,59.1 409.1,61.0 410.0,66.3 410.9,61.0 411.8,63.1 412.7,68.3 413.6,66.9 414.5,64.4 415.4,70.6 416.3,71.5 417.2,70.8 418.1,69.5 419.0,67.6 419.9,70.9 420.8,71.7 421.7,68.2 422.6,68.5 423.5,66.3 424.4,66.1 425.3,59.4 426.2,67.1 427.1,67.2 428.0,60.4 428.9,56.7 429.8,62.1 430.7,58.8 431.6,56.7 432.5,61.8 433.4,54.0 434.3,60.3 435.2,55.6 436.1,63.5 437.0,60.9 437.9,58.9 438.8,60.6 439.7,63.1 440.6,63.4 441.5,62.6 442.4,59.8 443.3,55.3 444.2,56.8 445.1,50.7 446.0,57.3 446.9,57.0 447.8,57.2 448.7,50.8 449.6,56.6 450.5,61.1 451.4,61.3 452.3,61.4 453.2,66.5 454.1,66.7 455.0,67.1 455.9,61.6 456.8,63.8 457.7,62.5 458.6,62.6 459.5,61.0 460.4,62.1 461.3,61.4 462.2,60.2 463.1,59.4 464.0,58.6 464.9,66.8 465.8,56.8 466.7,55.5 467.6,57.1 468.5,57.7 469.4,59.2 470.3,61.9 471.2,61.8 472.1,57.6 473.0,50.4 473.9,57.3 474.8,50.6 475.7,52.2 476.6,53.8 477.5,62.4 478.4,62.4 479.3,66.0 480.2,65.6 481.1,64.0 482.0,64.7 482.9,66.5 483.8,62.7 484.7,66.5 485.6,65.2 486.5,67.1 487.4,69.3 488.3,71.7 489.2,71.3 490.1,72.2 491.0,74.7 491.9,68.2 492.8,76.2 493.7,71.4 494.6,80.2 495.5,76.5 496.4,77.5 497.3,75.6 498.2,77.5 499.1,75.2 500.0,71.7 500.9,72.3 501.8,65.9 502.7,65.9 503.6,67.7 504.5,75.7 505.4,68.9 506.3,70.4 507.2,66.9 508.1,74.3 509.0,69.6 509.9,65.1 510.8,78.8 511.7,70.4 512.6,76.1 513.5,73.7 514.4,70.7 515.3,65.6 516.2,67.8 517.1,72.8 518.0,72.2 518.9,74.8 519.8,77.5 520.7,76.2 521.6,76.1 522.5,81.1 523.4,77.2 524.3,74.1 525.2,71.4 526.1,71.9 527.0,78.9 527.9,81.6 528.8,75.0 529.7,78.5 530.6,82.0 531.5,84.9 532.4,83.8 533.3,81.2 534.2,82.8 535.1,78.8 536.0,81.4 536.9,77.2 537.8,79.0 538.7,80.9 539.6,84.7 540.5,79.2 541.4,77.0 542.3,75.3 543.2,72.1 544.1,74.6 545.0,70.2 545.9,71.1 546.8,68.5 547.7,71.0 548.6,68.6 549.5,73.8 550.4,74.6 551.3,71.3 552.2,72.2 553.1,67.9 554.0,69.2 554.9,70.4 555.8,68.2 556.7,75.2 557.6,72.6 558.5,70.9 559.4,71.2 560.3,77.4 561.2,80.9 562.1,81.8 563.0,83.0 563.9,81.8 564.8,81.8 565.7,83.5 566.6,84.6 567.5,80.6 568.4,85.8 569.3,83.8 570.2,83.5 571.1,88.1 572.0,84.2 572.9,77.6 573.8,83.9 574.7,84.7 575.6,86.4 576.5,81.8 577.4,86.3 578.3,78.4 579.2,82.1 580.1,84.9 581.0,83.9 581.9,85.5 582.8,85.8 583.7,85.2 584.6,89.3 585.5,86.5 586.4,86.6 587.3,79.7 588.2,82.0 589.1,82.3 590.0,86.8 590.9,85.6 591.8,84.8 592.7,82.3 593.6,86.1 594.5,89.1 595.4,89.6 596.3,81.7 597.2,84.3 598.1,89.9 599.0,84.3 599.9,83.5 600.8,84.8 601.7,82.1 602.6,78.8 603.5,77.9 604.4,83.8 605.3,82.1 606.2,92.4 607.1,93.7 608.0,95.0 608.9,97.1 609.8,90.3 610.7,89.6 611.6,82.6 612.5,78.1 613.4,85.7 614.3,93.2 615.2,94.4 616.1,98.4 617.0,100.4 617.9,99.2 618.8,96.7 619.7,96.1 620.6,89.9 621.5,90.7 622.4,87.0 623.3,88.6 624.2,87.5 625.1,85.5 626.0,89.1 626.9,89.9 627.8,92.0 628.7,93.0 629.6,91.8 630.5,90.3 631.4,85.4 632.3,82.7 633.2,83.7 634.1,80.3 635.0,84.1 635.9,90.1 636.8,98.0 637.7,98.7 638.6,97.5 639.5,96.1 640.4,98.5 641.3,97.3 642.2,93.4 643.1,86.3 644.0,87.4 644.9,85.5 645.8,88.3 646.7,89.7 647.6,92.2 648.5,92.4 649.4,90.7 650.3,88.1 651.2,86.8 652.1,87.8 653.0,87.1 653.9,90.8 654.8,91.7 655.7,94.6 656.6,97.0 657.5,100.1 658.4,102.0 659.3,100.7 660.2,98.9 661.1,101.4 662.0,98.8 662.9,96.2 663.8,98.4 664.7,96.6 665.6,93.2 666.5,95.8 667.4,95.4 668.3,95.5 669.2,96.9 670.1,102.3 671.0,106.1 671.9,110.3 672.8,108.8 673.7,108.2 674.6,107.9 675.5,103.4 676.4,105.0 677.3,104.4 678.2,104.0 679.1,98.8 680.0,103.6 680.9,109.1 681.8,109.3 682.7,112.1 683.6,114.8 684.5,109.2 685.4,108.9 686.3,104.6 687.2,100.9 688.1,105.1 689.0,104.6 689.9,109.9 690.8,109.0 691.7,112.6 692.6,117.1 693.5,119.0 694.4,120.8 695.3,117.6 696.2,117.2 697.1,118.3 698.0,116.6 698.9,117.0 699.8,114.9 700.7,115.8 701.6,116.8 702.5,115.1 703.4,112.8 704.3,111.3 705.2,109.5 706.1,113.1 707.0,113.1 707.9,117.1 708.8,116.1 709.7,110.8 710.6,104.9 711.5,100.6 712.4,103.2 713.3,105.3 714.2,111.8 715.1,118.3 716.0,119.4 716.9,117.6 717.8,119.2 718.7,123.0 719.6,120.3 720.5,118.2 721.4,122.1 722.3,119.6 723.2,122.2 724.1,121.1 725.0,122.9 725.9,129.2 726.8,125.5 727.7,128.0 728.6,130.4 729.5,130.4 730.4,115.2 731.3,106.1 732.2,114.9 733.1,122.8 734.0,128.0 734.9,129.9 735.8,131.8 736.7,124.1 737.6,125.4 738.5,125.5 739.4,124.3 740.3,124.5 741.2,116.8 742.1,112.3 743.0,109.3 743.9,117.1 744.8,119.9 745.7,126.8 746.6,128.3 747.5,134.6 748.4,139.3 749.3,136.3 750.2,133.4 751.1,133.0 752.0,134.0 752.9,131.5 753.8,128.0 754.7,125.6 755.6,128.6 756.5,130.6 757.4,132.8 758.3,132.8 759.2,135.1 760.1,137.6 761.0,136.8 761.9,133.4 762.8,136.0 763.7,131.8 764.6,134.3 765.5,130.4 766.4,127.1 767.3,128.1 768.2,121.3 769.1,120.6 770.0,126.3 770.9,132.7 771.8,133.8 772.7,138.4 773.6,136.2 774.5,138.6 775.4,141.1 776.3,138.4 777.2,140.2 778.1,136.8 779.0,138.8 779.9,132.4 780.8,133.1 781.7,135.7 782.6,135.8 783.5,140.1 784.4,137.4 785.3,139.4 786.2,136.4 787.1,136.9 788.0,135.8 788.9,134.7 789.8,136.0 790.7,134.4 791.6,139.8 792.5,140.9 793.4,140.0 794.3,147.8 795.2,148.2 796.1,151.3 797.0,149.6 797.9,148.4 798.8,151.5 799.7,150.6 800.6,150.2 801.5,148.4 802.4,148.7 803.3,146.1 804.2,148.0 805.1,147.7 806.0,150.9 806.9,152.3 807.8,156.2 808.7,160.2 809.6,159.3 810.5,164.7 811.4,165.6 812.3,163.4 813.2,162.8 814.1,161.2 815.0,161.0 815.9,159.3 816.8,159.2 817.7,157.2 818.6,152.2 819.5,150.7 820.4,148.2 821.3,144.6 822.2,145.6 823.1,145.4 824.0,144.4 824.9,146.7 825.8,148.6 826.7,149.9 827.6,152.6 828.5,155.5 829.4,157.9 830.3,157.8 831.2,159.0 832.1,160.8 833.0,162.8 833.9,158.9 834.8,154.1 835.7,151.6 836.6,151.9 837.5,155.4 838.4,156.3 839.3,156.9 840.2,162.0 841.1,162.3 842.0,159.6 842.9,158.9 843.8,156.1 844.7,160.6 845.6,160.5 846.5,162.0 847.4,164.0 848.3,168.1 849.2,170.6 850.1,171.2 851.0,170.6 851.9,172.6 852.8,175.1 853.7,178.5 854.6,183.2 855.5,184.4 856.4,184.4 857.3,184.4 858.2,182.8 859.1,179.1 860.0,178.1 860.9,175.9 861.8,178.7 862.7,179.8 863.6,180.0 864.5,181.5 865.4,186.9 866.3,188.9 867.2,189.7 868.1,187.2 869.0,184.6 869.9,181.6 870.8,179.3 871.7,180.4 872.6,183.1 873.5,183.1 874.4,181.5 875.3,181.3 876.2,180.3 877.1,184.0 878.0,183.9 878.9,183.3 879.8,186.2 880.7,188.0 881.6,187.3 882.5,190.7 883.4,191.2 884.3,188.6 885.2,188.8 886.1,185.4 887.0,182.0 887.9,180.0 888.8,178.3 889.7,175.5 890.6,172.4 891.5,169.0 892.4,169.9 893.3,172.4 894.2,174.3 895.1,178.4 896.0,180.1 896.9,183.9 897.8,183.6 898.7,186.1 899.6,189.9 900.5,194.3 901.4,197.3 902.3,200.1 903.2,202.7 904.1,205.2 905.0,205.9 905.9,206.7 906.8,205.5 907.7,204.4 908.6,204.7 909.5,201.7 910.4,201.3 911.3,200.4 912.2,197.8 913.1,196.3 914.0,194.3 914.9,193.4 915.8,193.0 916.7,197.9 917.6,204.0 918.5,210.4 919.4,213.1 920.3,208.8 921.2,205.8 922.1,201.9 923.0,199.0 923.9,198.0 924.8,197.7 925.7,195.9 926.6,195.9 927.5,192.1 928.4,189.6 929.3,190.2 930.2,191.4 931.1,191.3 932.0,192.6 932.9,191.4 933.8,190.1 934.7,188.2 935.6,188.2 936.5,189.8 937.4,190.2 938.3,190.2 939.2,189.7 940.1,190.1 941.0,191.2 941.9,190.7 942.8,192.1 943.7,194.1 944.6,196.2 945.5,200.7 946.4,200.6 947.3,201.7 948.2,204.2 949.1,205.4 950.0,206.6 950.9,204.9 951.8,204.6 952.7,204.2 953.6,204.7 954.5,205.7 955.4,206.8 956.3,204.7 957.2,203.4 958.1,203.1 959.0,204.0 959.9,203.4 960.8,200.1 961.7,203.3 962.6,205.6 963.5,209.1 964.4,213.3 965.3,216.2 966.2,218.8 967.1,216.8 968.0,216.3 968.9,214.3 969.8,214.0 970.7,216.4 971.6,220.9 972.5,222.9 973.4,225.2 974.3,226.8 975.2,230.9 976.1,233.4 977.0,231.8 977.9,228.4 978.8,224.0 979.7,222.4 980.6,223.6 981.5,226.8 982.4,229.2 983.3,231.1 984.2,232.3 985.1,234.6 986.0,234.9 986.9,233.2 987.8,233.0 988.7,232.6 989.6,235.4 990.5,234.0 991.4,233.8 992.3,229.8 993.2,227.2 994.1,222.2 995.0,218.5 995.9,217.4 996.8,217.5 997.7,220.1 998.6,219.6 999.5,218.0 1000.4,216.1 1001.3,215.5 1002.2,217.2 1003.1,215.1 1004.0,213.8 1004.9,216.5 1005.8,222.9 1006.7,228.6 1007.6,233.5 1008.5,237.6 1009.4,234.4 1010.3,229.5 1011.2,226.4 1012.1,226.6 1013.0,228.9 1013.9,231.9 1014.8,234.0 1015.7,237.0 1016.6,240.8 1017.5,238.0 1018.4,233.9 1019.3,227.8 1020.2,222.2 1021.1,218.5 1022.0,225.5 1022.9,234.4 1023.8,241.3 1024.7,247.6 1025.6,245.6 1026.5,243.2 1027.4,240.8 1028.3,238.0 1029.2,234.0 1030.1,230.9 1031.0,231.0 1031.9,233.2 1032.8,237.7 1033.7,241.6 1034.6,242.9 1035.5,245.7 1036.4,249.3 1037.3,251.8 1038.2,253.3 1039.1,256.9 1040.0,254.5 1040.9,253.4 1041.8,250.6 1042.7,248.7 1043.6,247.6 1044.5,254.0 1045.4,260.7 1046.3,266.7 1047.2,272.8 1048.1,274.9 1049.0,271.8 1049.9,267.5 1050.8,263.9 1051.7,262.0 1052.6,262.7 1053.5,262.9 1054.4,263.1 1055.3,263.7 1056.2,270.9 1057.1,278.9 1058.0,286.9 1058.9,294.9 1059.8,291.1 1060.7,286.2 1061.6,278.8 1062.5,272.4 1063.4,266.8 1064.3,263.6 1065.2,265.2 1066.1,265.8 1067.0,267.7 1067.9,266.9 1068.8,265.4 1069.7,264.8 1070.6,269.9 1071.5,274.0 1072.4,281.2 1073.3,286.7 1074.2,290.3 1075.1,285.2 1076.0,278.6 1076.9,274.6 1077.8,269.3 1078.7,265.7 1079.6,259.7 1080.5,256.9 1081.4,257.5 1082.3,260.3 1083.2,263.9 1084.1,266.1 1085.0,267.8 1085.9,267.8 1086.8,270.7 1087.7,271.6 1088.6,272.9 1089.5,275.2 1090.4,285.0 1091.3,294.3 1092.2,293.3 1093.1,291.5 1094.0,288.3 1094.9,287.9 1095.8,288.0 1096.7,291.5 1097.6,292.9 1098.5,291.6 1099.4,285.6 1100.3,282.8 1101.2,277.3 1102.1,271.4 1103.0,269.5 1103.9,269.5 1104.8,269.3 1105.7,267.6 1106.6,267.2 1107.5,265.9 1108.4,269.8 1109.3,274.2 1110.2,275.8 1111.1,279.2 1112.0,281.0 1112.9,282.8 1113.8,285.3 1114.7,289.6 1115.6,294.5 1116.5,299.4 1117.4,303.6 1118.3,308.9 1119.2,313.2 1120.1,309.8 1121.0,306.2 1121.9,303.3 1122.8,299.3 1123.7,296.3 1124.6,293.4 1125.5,295.9 1126.4,298.4 1127.3,301.9 1128.2,302.8 1129.1,306.8 1130.0,309.5 1130.9,313.0 1131.8,320.5 1132.7,323.7 1133.6,324.1 1134.5,323.8 1135.4,322.6 1136.3,321.7 1137.2,323.5 1138.1,324.9 1139.0,327.3 1139.9,328.5 1140.8,330.7 1141.7,332.5 1142.6,334.0 1143.5,338.0 1144.4,341.5 1145.3,345.8 1146.2,349.2 1147.1,350.2 1148.0,350.8 1148.9,351.6 1149.8,350.6 1150.7,352.9 1151.6,358.4 1152.5,361.4 1153.4,366.4 1154.3,368.8 1155.2,373.3 1156.1,378.4 1157.0,378.0 1157.9,377.6 1158.8,377.0 1159.7,376.0 1160.6,375.8 1161.5,377.5 1162.4,377.6 1163.3,380.6 1164.2,380.2 1165.1,380.2 1166.0,383.2 1166.9,387.0 1167.8,391.6 1168.7,396.3 1169.6,405.6 1170.5,402.7 1171.4,398.4 1172.3,395.8 1173.2,393.3 1174.1,389.0 1175.0,394.2 1175.9,400.4 1176.8,407.9 1177.7,410.0 1178.6,410.8 1179.5,408.8 1180.4,409.0 1181.3,409.3 1182.2,409.5 1183.1,411.7 1184.0,418.2 1184.9,422.6 1185.8,426.2 1186.7,430.9 1187.6,437.1 1188.5,442.8 1189.4,447.6 1190.3,451.1 1191.2,455.4 1192.1,464.1 1193.0,472.9 1193.9,482.0 1194.8,491.0 1195.7,499.1 1196.6,505.0 1197.5,505.4 1198.4,506.4 1199.3,506.1 1200.2,501.9 1201.1,498.7 1202.0,495.6 1202.9,507.3 1203.8,518.0 1204.7,518.9 1205.6,519.9 1206.5,519.1 1207.4,528.7 1208.3,538.5 1209.2,534.8 1210.1,530.7 1211.0,525.4 1211.9,520.6 1212.8,519.8 1213.7,522.9 1214.6,525.6 1215.5,528.5 1216.4,532.0 1217.3,536.6 1218.2,539.8 1219.1,541.9 1220.0,546.8 1220.9,556.1 1221.8,562.0 1222.7,566.4 1223.6,583.2 1224.5,589.0 1225.4,589.0 1226.3,591.5 1227.2,601.8 1228.1,612.4 1229.0,622.6 1229.9,631.9 1230.8,639.7 1231.7,649.1 1232.6,650.4 1233.5,649.6 1234.4,648.3 1235.3,647.9 1236.2,655.2 1237.1,656.8 1238.0,659.2 1238.9,659.9 1239.8,661.4 1240.7,666.2 1241.6,672.2 1242.5,677.3 1243.4,680.5 1244.3,682.1 1245.2,686.2 1246.1,690.2 1247.0,693.6 1247.9,700.7 1248.8,701.7 1249.7,700.1 1250.6,710.1 1251.5,719.6 1252.4,728.3 1253.3,732.9 1254.2,737.0 1255.1,744.1 1256.0,752.0 1256.9,760.2 1257.8,768.8 1258.7,777.1 1259.6,785.5 1260.5,791.2 1261.4,791.8 1262.3,794.3 1263.2,795.1 1264.1,799.8 1265.0,804.6 1265.9,807.9 1266.8,810.7 1267.7,812.3 1268.6,814.9 1269.5,819.8 1270.4,824.0 1271.3,828.3 1272.2,829.4 1273.1,829.6 1274.0,827.6 1274.9,824.1 1275.8,823.3 1276.7,824.8 1277.6,826.3 1278.5,824.6 1279.4,821.6 1280.3,819.1 1281.2,820.3 1282.1,823.5 1283.0,826.6 1283.9,828.1 1284.8,827.7 1285.7,830.8 1286.6,832.8 1287.5,836.0 1288.4,841.8 1289.3,845.9 1290.2,848.2 1291.1,849.4 1292.0,851.7 1292.9,851.6 1293.8,853.4 1294.7,854.7 1295.6,856.3 1296.5,856.2 1297.4,853.8 1298.3,853.3 1299.2,851.1 1300.1,848.5 1301.0,846.9 1301.9,848.3"/>
</g>
<rect x="339.8" y="37.5" width="1082.7" height="826.9" fill="none" stroke="#000" stroke-width="3.1"/>
<path d="M448.1 864.9V858.4M556.3 864.9V851.9M664.6 864.9V858.4M772.9 864.9V851.9M881.2 864.9V858.4M989.4 864.9V851.9M1097.7 864.9V858.4M1206.0 864.9V851.9M1314.2 864.9V858.4M339.3 795.4H347.5M339.3 726.5H353.6M339.3 657.6H347.5M339.3 588.7H353.6M339.3 519.8H347.5M339.3 450.9H353.6M339.3 382.0H347.5M339.3 313.1H353.6M339.3 244.2H347.5M339.3 175.3H353.6M339.3 106.4H347.5" stroke="#000" stroke-width="3" stroke-linecap="round" fill="none"/>
<line x1="1099.8" x2="1188.2" y1="99.2" y2="99.2" stroke="#000" stroke-width="3.7" stroke-linecap="round"/>
<line x1="1099.8" x2="1188.2" y1="152.4" y2="152.4" stroke="#e60000" stroke-width="3.2" stroke-linecap="round"/>
<line x1="1099.8" x2="1188.2" y1="205.4" y2="205.4" stroke="#0000e6" stroke-width="3.2" stroke-linecap="round"/>
<g font-family="'Liberation Serif','Noto Serif CJK SC',serif" fill="#000">
<text transform="translate(291.78,877.41) scale(0.5548,0.4889)" font-size="100">0</text>
<text transform="translate(220.43,739.41) scale(0.5668,0.4853)" font-size="100">0.02</text>
<text transform="translate(220.46,601.61) scale(0.5611,0.4853)" font-size="100">0.04</text>
<text transform="translate(220.45,463.80) scale(0.5625,0.4853)" font-size="100">0.06</text>
<text transform="translate(220.44,325.99) scale(0.5659,0.4853)" font-size="100">0.08</text>
<text transform="translate(220.43,188.18) scale(0.5665,0.4853)" font-size="100">0.10</text>
<text transform="translate(220.43,50.37) scale(0.5668,0.4853)" font-size="100">0.12</text>
<text transform="translate(324.48,920.41) scale(0.5548,0.4889)" font-size="100">0</text>
<text transform="translate(519.18,920.17) scale(0.5810,0.4853)" font-size="100">0.2</text>
<text transform="translate(736.43,920.17) scale(0.5665,0.4853)" font-size="100">0.4</text>
<text transform="translate(952.51,920.17) scale(0.5729,0.4853)" font-size="100">0.6</text>
<text transform="translate(1169.01,920.17) scale(0.5735,0.4853)" font-size="100">0.8</text>
<text transform="translate(1385.17,920.17) scale(0.5812,0.4853)" font-size="100">1.0</text>
<text transform="translate(791.10,1002.84) scale(0.4811,0.4886)" font-size="100" stroke="#000" stroke-width="1.1" stroke-linejoin="round">时间</text>
<text transform="translate(891.70,1012.66) scale(0.7891,0.7353)" font-size="100" stroke="#fff" stroke-width="2.0">/</text>
<text transform="translate(917.56,1001.34) scale(0.5747,0.4583)" font-size="100" stroke="#fff" stroke-width="0.7">ns</text>
<text transform="translate(1205.87,116.87) scale(0.4925,0.4848)" font-size="100" stroke="#000" stroke-width="1.1" stroke-linejoin="round">模型</text>
<text transform="translate(1305.19,124.70) scale(0.8543,0.6723)" font-size="100" stroke="#fff" stroke-width="2.0">#</text>
<text transform="translate(1350.52,115.60) scale(0.5086,0.4992)" font-size="100">1</text>
<text transform="translate(1205.87,170.07) scale(0.4925,0.4848)" font-size="100" stroke="#000" stroke-width="1.1" stroke-linejoin="round">模型</text>
<text transform="translate(1305.19,177.90) scale(0.8543,0.6723)" font-size="100" stroke="#fff" stroke-width="2.0">#</text>
<text transform="translate(1350.65,168.31) scale(0.5098,0.4881)" font-size="100">3</text>
<text transform="translate(1205.87,223.27) scale(0.4925,0.4848)" font-size="100" stroke="#000" stroke-width="1.1" stroke-linejoin="round">模型</text>
<text transform="translate(1305.19,231.10) scale(0.8543,0.6723)" font-size="100" stroke="#fff" stroke-width="2.0">#</text>
<text transform="translate(1350.25,221.51) scale(0.5250,0.4917)" font-size="100">5</text>
<g transform="rotate(-90)">
<text transform="translate(-602.35,173.38) scale(0.4853,0.4857)" font-size="100" stroke="#000" stroke-width="1.1" stroke-linejoin="round">数密度</text>
<text transform="translate(-453.10,183.67) scale(0.7382,0.7338)" font-size="100" stroke="#fff" stroke-width="2.0">/</text>
<text transform="translate(-428.45,172.40) scale(0.5806,0.4319)" font-size="100" stroke="#fff" stroke-width="0.7">nm</text>
<text transform="translate(-348.81,165.03) scale(0.4817,0.4600)" font-size="100">−</text>
<text transform="translate(-318.52,158.54) scale(0.4049,0.3582)" font-size="100">3</text>
</g>
</g></svg>
</body></html>
